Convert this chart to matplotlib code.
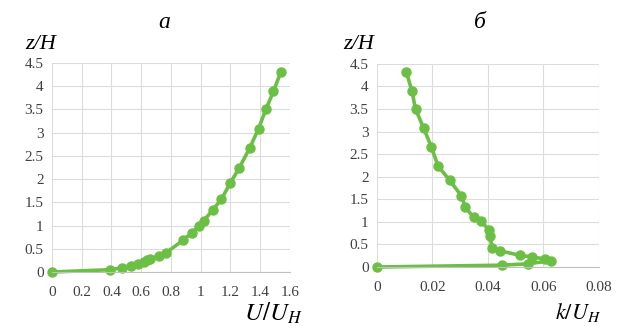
import matplotlib.pyplot as plt
import numpy as np

# profile a: mean velocity
u_ratio = [0, 0.39, 0.47, 0.53, 0.58, 0.62, 0.64, 0.66, 0.72, 0.77, 0.88, 0.94,
           0.99, 1.02, 1.08, 1.14, 1.20, 1.26, 1.33, 1.39, 1.44, 1.49, 1.54]
z_a = [0, 0.05, 0.09, 0.14, 0.18, 0.22, 0.25, 0.28, 0.35, 0.42, 0.68, 0.84,
       1.0, 1.1, 1.33, 1.57, 1.92, 2.24, 2.67, 3.09, 3.51, 3.89, 4.31]

# profile б: turbulent kinetic energy
k_ratio = [0.0106, 0.0126, 0.0139, 0.0168, 0.0196, 0.0220, 0.0262, 0.0304, 0.0318,
           0.0348, 0.0376, 0.0402, 0.0406, 0.0416, 0.0442, 0.0514, 0.0560, 0.0604,
           0.0627, 0.0544, 0.0450, 0]
z_b = [4.32, 3.90, 3.50, 3.08, 2.66, 2.24, 1.92, 1.58, 1.33, 1.10, 1.01, 0.83,
       0.68, 0.42, 0.36, 0.26, 0.22, 0.18, 0.14, 0.07, 0.04, 0]

x_ticks_a = [0, 0.2, 0.4, 0.6, 0.8, 1, 1.2, 1.4, 1.6]
x_ticks_b = [0, 0.02, 0.04, 0.06, 0.08]
y_ticks = [0, 0.5, 1, 1.5, 2, 2.5, 3, 3.5, 4, 4.5]

green = '#6cbf45'
serif = 'Liberation Serif'

fig = plt.figure(figsize=(6.21, 3.26), dpi=100)
ax1 = fig.add_axes([0.0837, 0.1656, 0.383, 0.641])
ax2 = fig.add_axes([0.607, 0.181, 0.3575, 0.623])


def style(ax, xt, xmax):
    ax.set_xlim(0, xmax)
    ax.set_ylim(0, 4.5)
    ax.set_xticks(xt)
    ax.set_xticklabels([f'{v:g}' for v in xt], fontfamily=serif, fontsize=11, color='#404040')
    ax.set_yticks(y_ticks)
    ax.set_yticklabels([f'{v:g}' for v in y_ticks], fontfamily=serif, fontsize=11, color='#404040')
    ax.grid(True, color='#dcdcdc', linewidth=0.8)
    ax.set_axisbelow(True)
    for s in ['top', 'right', 'left']:
        ax.spines[s].set_visible(False)
    ax.spines['bottom'].set_color('#c0c0c0')
    ax.tick_params(axis='x', length=0, pad=10)
    ax.tick_params(axis='y', length=0, pad=6)


style(ax1, x_ticks_a, 1.6)
style(ax2, x_ticks_b, 0.08)

ax1.plot(u_ratio, z_a, color=green, lw=2.6, marker='o', ms=6.5, clip_on=False)
ax2.plot(k_ratio, z_b, color=green, lw=2.6, marker='o', ms=6.5, clip_on=False)

fig.text(0.265, 0.93, 'a', fontfamily=serif, fontsize=17, style='italic', ha='center', va='center')
fig.text(0.773, 0.93, 'б', fontfamily=serif, fontsize=17, style='italic', ha='center', va='center')
fig.text(0.065, 0.865, 'z/H', fontfamily=serif, fontsize=16, style='italic', ha='center', va='center')
fig.text(0.578, 0.865, 'z/H', fontfamily=serif, fontsize=16, style='italic', ha='center', va='center')
fig.text(0.44, 0.04, r'$U/U_H$', fontsize=18, ha='center', va='center', math_fontfamily='stix')
fig.text(0.93, 0.04, r'$k/U_H$', fontsize=16, ha='center', va='center', math_fontfamily='stix')

fig.savefig('out.png', dpi=100)
